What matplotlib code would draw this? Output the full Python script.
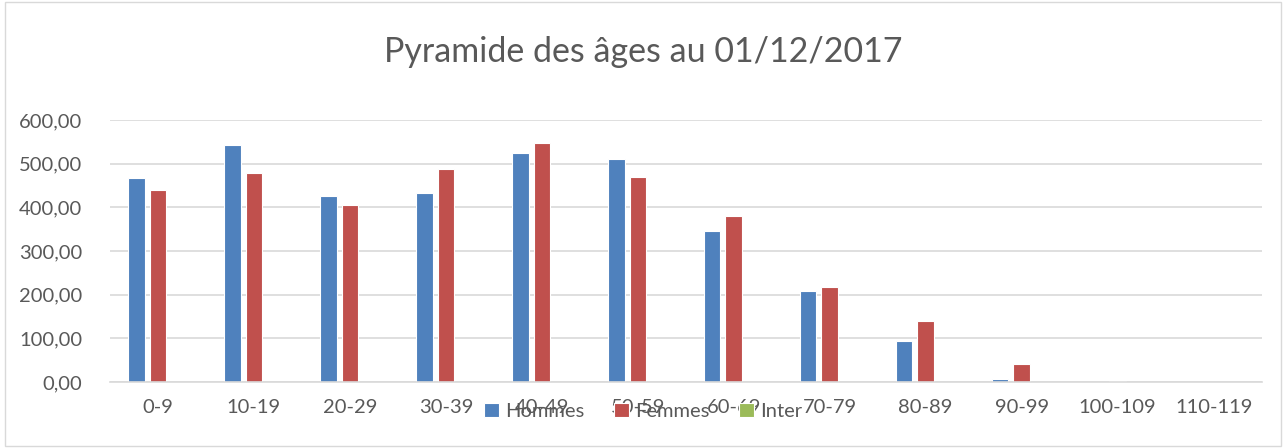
import matplotlib.pyplot as plt
import numpy as np

categories = ['0-9', '10-19', '20-29', '30-39', '40-49', '50-59',
              '60-69', '70-79', '80-89', '90-99', '100-109', '110-119']
hommes = [467, 542, 426, 433, 524, 510, 345, 209, 94, 7, 0, 0]
femmes = [441, 479, 406, 489, 547, 469, 380, 217, 141, 42, 2, 0]
inter = [0, 0, 0, 0, 0, 0, 0, 0, 0, 0, 0, 0]
yticks = [0, 100, 200, 300, 400, 500, 600]

plt.rcParams['font.family'] = ['Lato', 'DejaVu Sans']
txt = '#595959'

fig = plt.figure(figsize=(12.86, 4.48), dpi=100)
ax = fig.add_axes([0.0855, 0.147, 0.8955, 0.585])

x = np.arange(len(categories))
w = 0.172
off = 0.224
ax.bar(x - off, hommes, w, color='#4f81bd', edgecolor='white', linewidth=0.8, label='Hommes')
ax.bar(x, femmes, w, color='#c0504d', edgecolor='white', linewidth=0.8, label='Femmes')
ax.bar(x + off, inter, w, color='#9bbb59', edgecolor='white', linewidth=0.8, label='Inter')

ax.set_xlim(-0.5, len(categories) - 0.5)
ax.set_ylim(0, 600)
ax.set_yticks(yticks)
ax.set_yticklabels(['%d,00' % v for v in yticks])
ax.set_xticks(x)
ax.set_xticklabels(categories)
ax.tick_params(length=0, labelsize=14.5, colors=txt, pad=12)
ax.tick_params(axis='y', pad=20)
ax.grid(axis='y', color='#d9d9d9', linewidth=1.2)
ax.set_axisbelow(True)
for s in ['top', 'right', 'left']:
    ax.spines[s].set_visible(False)
ax.spines['bottom'].set_color('#d9d9d9')
ax.spines['bottom'].set_linewidth(1.2)

fig.text(0.5, 0.885, 'Pyramide des âges au 01/12/2017', ha='center', va='center',
         fontsize=24.5, color=txt)

fig.legend(loc='center', bbox_to_anchor=(0.5, 0.082), ncol=3, frameon=False,
           fontsize=14.5, labelcolor=txt, handlelength=0.75, handleheight=0.75,
           handletextpad=0.3, columnspacing=1.45)

border = plt.Rectangle((0.004, 0.004), 0.992, 0.992, transform=fig.transFigure,
                       fill=False, edgecolor='#d9d9d9', linewidth=1)
fig.patches.append(border)

fig.savefig('out.png', dpi=100)
